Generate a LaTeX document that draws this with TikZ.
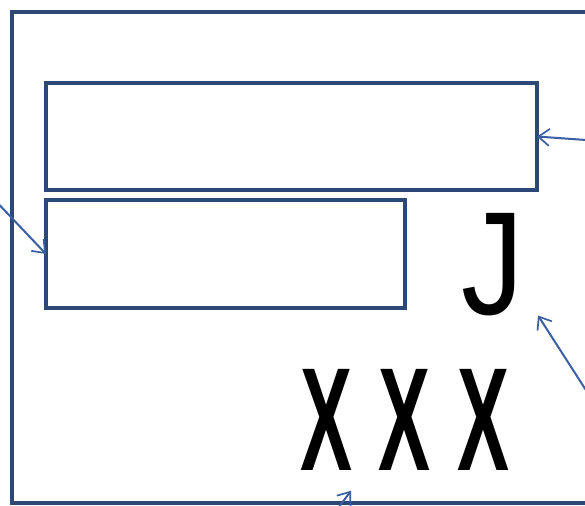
\documentclass[tikz,border=0pt]{standalone}
\usepackage{fontspec}
\usepackage{graphicx}
\newfontfamily\letterfont{Liberation Sans}
\usetikzlibrary{arrows.meta, positioning, calc}

\definecolor{framenavy}{HTML}{2C4877}
\definecolor{arrowblue}{HTML}{3A5FA3}

\begin{document}
\begin{tikzpicture}[
  x=1pt, y=-1pt,
  % ---- styles ----
  panel/.style = {
    rectangle, draw=framenavy, line width=4.5pt,
    inner sep=0pt, outer sep=0pt
  },
  glyph/.style = {
    font=\letterfont\fontsize{147}{147}\selectfont,
    inner sep=0pt, text=black
  },
  pointer/.style = {
    -{Straight Barb[length=11pt, width=17pt, line width=1.7pt]},
    draw=arrowblue, line width=2pt
  }
]
\useasboundingbox (0,0) rectangle (585,505);
\clip (0,0) rectangle (585,505);

% ============ FRAME ============
\draw[framenavy, line width=4.5pt] (12,12) rectangle (640,503);

% ============ BOXES ============
\node[panel, minimum width=491pt, minimum height=107pt] (upper) at (291.5,136.5) {};
\node[panel, minimum width=359pt, minimum height=108pt] (lower) at (225.5,254) {};

% ============ LETTERS ============
\node[glyph] (jay) at (493,265) {\scalebox{0.85}[1]{J}};
\node[glyph, font=\letterfont\bfseries\fontsize{147}{147}\selectfont] (marks) at (405,420)
  {\scalebox{0.53}[1]{X\hspace{0.34em}X\hspace{0.34em}X}};

% ============ POINTERS ============
\coordinate (leftend) at (-10,195);
\coordinate (rightend) at (600,141);
\coordinate (jayend) at (600,412);
\coordinate (bottomend) at (333,515);
\coordinate (jaytip) at ($(jay.south)+(45,-1)$);
\coordinate (markstip) at ($(marks.south)+(-54,20)$);

\draw[pointer] (leftend) -- (lower.west);
\draw[pointer] (rightend) -- (upper.east);
\draw[pointer] (jayend) -- (jaytip);
\draw[pointer] (bottomend) -- (markstip);

\end{tikzpicture}
\end{document}
